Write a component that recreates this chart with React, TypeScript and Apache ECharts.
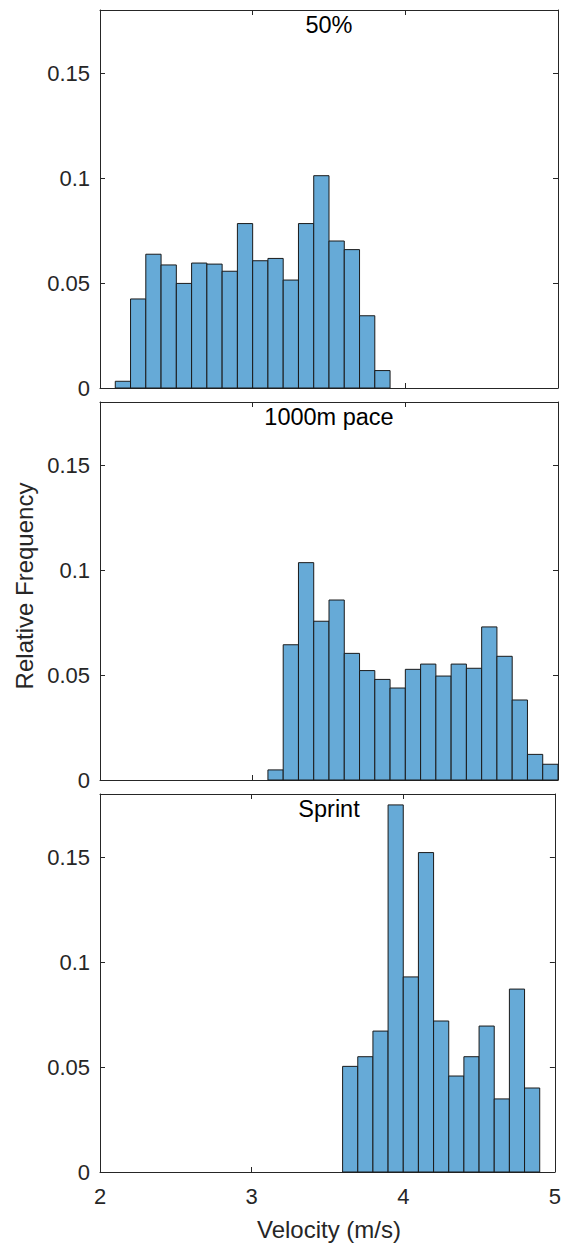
import React, { useEffect, useRef } from "react";
import * as echarts from "echarts";

// Bin edges (left edge of each bin, plus the final right edge) and relative frequencies
const edges50 = [2.1, 2.2, 2.3, 2.4, 2.5, 2.6, 2.7, 2.8, 2.9, 3.0, 3.1, 3.2, 3.3, 3.4, 3.5, 3.6, 3.7, 3.8, 3.9];
const freq50 = [0.0032, 0.0424, 0.0637, 0.0586, 0.0498, 0.0595, 0.059, 0.0556, 0.0783, 0.0606, 0.0617, 0.0514, 0.0783, 0.1011, 0.07, 0.0659, 0.0344, 0.0083];

const edgesPace = [3.1, 3.2, 3.3, 3.4, 3.5, 3.6, 3.7, 3.8, 3.9, 4.0, 4.1, 4.2, 4.3, 4.4, 4.5, 4.6, 4.7, 4.8, 4.9, 5.0];
const freqPace = [0.0048, 0.0644, 0.1035, 0.0756, 0.0857, 0.0603, 0.0521, 0.0479, 0.0438, 0.0527, 0.0552, 0.0495, 0.0552, 0.0532, 0.0729, 0.0589, 0.0381, 0.0122, 0.0075];

const edgesSprint = [3.6, 3.7, 3.8, 3.9, 4.0, 4.1, 4.2, 4.3, 4.4, 4.5, 4.6, 4.7, 4.8, 4.9];
const freqSprint = [0.0503, 0.0549, 0.0671, 0.1748, 0.0929, 0.1521, 0.0719, 0.0457, 0.0549, 0.0695, 0.0348, 0.0871, 0.04];

const panelTitles = ["50%", "1000m pace", "Sprint"];
const panels = [
  { edges: edges50, freq: freq50 },
  { edges: edgesPace, freq: freqPace },
  { edges: edgesSprint, freq: freqSprint },
];

const X_MIN = 2;
const X_MAX = 5;
const Y_MIN = 0;
const Y_MAX = 0.18;

const FONT = "'Liberation Sans', Arial, Helvetica, sans-serif";
const AXIS_COLOR = "#262626";
const BAR_FILL = "#66AAD7";

const gridTops = [10, 402, 794];
const GRID_LEFT = 100;
const GRID_WIDTH = 458;
const GRID_HEIGHT = 378;

export default function App() {
  const ref = useRef<HTMLDivElement>(null);

  useEffect(() => {
    if (!ref.current) return;
    const chart = echarts.init(ref.current, undefined, { renderer: "svg" });

    const grids: any[] = [];
    const xAxes: any[] = [];
    const yAxes: any[] = [];
    const series: any[] = [];
    const graphics: any[] = [];

    const axisLine = { show: true, onZero: false, lineStyle: { color: AXIS_COLOR, width: 1 } };
    const axisTick = { show: true, inside: true, length: 5, lineStyle: { color: AXIS_COLOR, width: 1 } };

    panels.forEach((p, i) => {
      const top = gridTops[i];
      grids.push({ left: GRID_LEFT, top, width: GRID_WIDTH, height: GRID_HEIGHT, containLabel: false });

      const isLast = i === panels.length - 1;
      xAxes.push({
        type: "value",
        gridIndex: i,
        position: "bottom",
        min: X_MIN,
        max: X_MAX,
        interval: 1,
        axisLine,
        axisTick,
        splitLine: { show: false },
        axisLabel: {
          show: isLast,
          margin: 13,
          color: AXIS_COLOR,
          fontSize: 22,
          fontFamily: FONT,
        },
      });
      xAxes.push({
        type: "value",
        gridIndex: i,
        position: "top",
        min: X_MIN,
        max: X_MAX,
        interval: 1,
        axisLine,
        axisTick,
        splitLine: { show: false },
        axisLabel: { show: false },
      });
      yAxes.push({
        type: "value",
        gridIndex: i,
        position: "left",
        min: Y_MIN,
        max: Y_MAX,
        interval: 0.05,
        axisLine,
        axisTick,
        splitLine: { show: false },
        axisLabel: {
          show: true,
          margin: 10,
          color: AXIS_COLOR,
          fontSize: 22,
          fontFamily: FONT,
          showMaxLabel: false,
        },
      });
      yAxes.push({
        type: "value",
        gridIndex: i,
        position: "right",
        min: Y_MIN,
        max: Y_MAX,
        interval: 0.05,
        axisLine,
        axisTick,
        splitLine: { show: false },
        axisLabel: { show: false },
      });

      const data = p.freq.map((v, k) => [p.edges[k], p.edges[k + 1], v]);
      series.push({
        type: "custom",
        xAxisIndex: 2 * i,
        yAxisIndex: 2 * i,
        encode: { x: [0, 1], y: 2 },
        data,
        renderItem: (_params: any, api: any) => {
          const x0 = api.value(0);
          const x1 = api.value(1);
          const v = api.value(2);
          const base = api.coord([x0, 0]);
          const tip = api.coord([x1, v]);
          return {
            type: "rect",
            shape: {
              x: base[0],
              y: tip[1],
              width: tip[0] - base[0],
              height: base[1] - tip[1],
            },
            style: { fill: BAR_FILL, stroke: "#1a1a1a", lineWidth: 1 },
          };
        },
      });

      graphics.push({
        type: "text",
        x: GRID_LEFT + GRID_WIDTH / 2,
        y: top + 15,
        style: {
          text: panelTitles[i],
          align: "center",
          verticalAlign: "middle",
          fontSize: 23.5,
          fontFamily: FONT,
          fill: "#000000",
        },
        z: 100,
      });
    });

    graphics.push({
      type: "text",
      x: 24,
      y: 586,
      rotation: Math.PI / 2,
      style: {
        text: "Relative Frequency",
        align: "center",
        verticalAlign: "middle",
        fontSize: 24,
        fontFamily: FONT,
        fill: AXIS_COLOR,
      },
    });
    graphics.push({
      type: "text",
      x: GRID_LEFT + GRID_WIDTH / 2,
      y: 1229,
      style: {
        text: "Velocity (m/s)",
        align: "center",
        verticalAlign: "middle",
        fontSize: 24,
        fontFamily: FONT,
        fill: AXIS_COLOR,
      },
    });

    chart.setOption({
      animation: false,
      backgroundColor: "#ffffff",
      grid: grids,
      xAxis: xAxes,
      yAxis: yAxes,
      series,
      graphic: graphics,
    });

    return () => chart.dispose();
  }, []);

  return (
    <div
      ref={ref}
      style={{ position: "fixed", left: 0, top: 0, width: 564, height: 1247 }}
    />
  );
}
